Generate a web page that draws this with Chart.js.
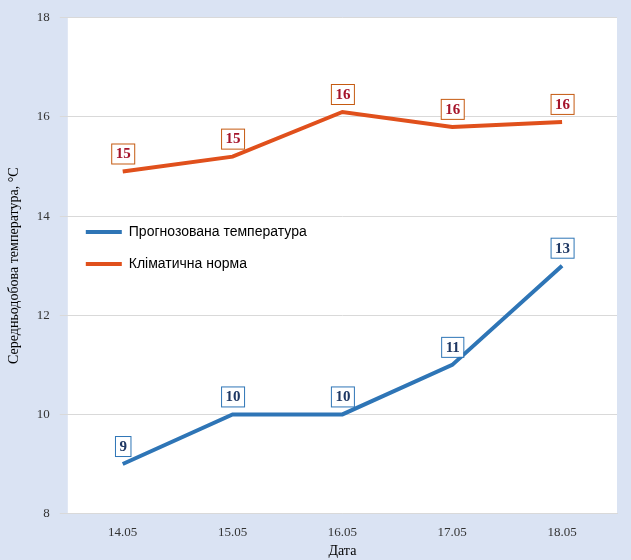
<!DOCTYPE html>
<html><head><meta charset="utf-8">
<script src="https://cdn.jsdelivr.net/npm/chart.js@4"></script>
<style>
html,body{margin:0;padding:0;background:#dae3f3;}
#wrap{position:absolute;left:0;top:0;width:631px;height:560px;}
</style></head><body>
<div id="wrap"><canvas id="c" width="631" height="560"></canvas></div>
<script>
// --- data ---
const dates = ['14.05', '15.05', '16.05', '17.05', '18.05'];
const forecast = [9, 10, 10, 11, 13];
const climateNorm = [14.9, 15.2, 16.1, 15.8, 15.9];

// white plot area background + boxed value labels
const plotBg = {
    id: 'plotBg',
    beforeDraw(chart) {
        const a = chart.chartArea, ctx = chart.ctx;
        ctx.save();
        ctx.fillStyle = '#ffffff';
        ctx.fillRect(a.left, a.top, a.right - a.left, a.bottom - a.top);
        ctx.restore();
    },
    afterDatasetsDraw(chart) {
        const ctx = chart.ctx;
        const styles = [{ text: '#1f3864', border: '#2e75b6' }, { text: '#a5142a', border: '#c55a11' }];
        chart.data.datasets.forEach((ds, i) => {
            chart.getDatasetMeta(i).data.forEach((pt, j) => {
                const label = String(Math.round(ds.data[j]));
                ctx.save();
                ctx.font = 'bold 15px "Liberation Serif"';
                const w = ctx.measureText(label).width + 8, h = 20;
                const x = pt.x - w / 2, y = pt.y - 28;
                ctx.fillStyle = '#fff';
                ctx.fillRect(x, y, w, h);
                ctx.strokeStyle = styles[i].border;
                ctx.lineWidth = 1;
                ctx.strokeRect(x + 0.5, y + 0.5, w, h);
                ctx.fillStyle = styles[i].text;
                ctx.textAlign = 'center';
                ctx.textBaseline = 'middle';
                ctx.fillText(label, pt.x + 0.5, y + h / 2 + 1);
                ctx.restore();
            });
        });
    }
};

new Chart(document.getElementById('c'), {
    type: 'line',
    data: {
        labels: dates,
        datasets: [
            { label: 'Прогнозована температура', data: forecast, borderColor: '#2e75b6', backgroundColor: '#2e75b6',
              borderWidth: 4, pointRadius: 0, tension: 0 },
            { label: 'Кліматична норма', data: climateNorm, borderColor: '#e0501c', backgroundColor: '#e0501c',
              borderWidth: 4, pointRadius: 0, tension: 0 }
        ]
    },
    options: {
        responsive: false, animation: false,
        layout: { padding: { top: 10, right: 14, left: 2, bottom: 0 } },
        plugins: {
            legend: { position: 'chartArea', align: 'center',
                labels: { usePointStyle: true, pointStyle: 'line', pointStyleWidth: 36, color: '#000', padding: 18,
                    font: { family: 'Liberation Sans', size: 14 } } },
            tooltip: { enabled: false }
        },
        scales: {
            x: { offset: true, grid: { display: false }, border: { color: '#d9d9d9' },
                 ticks: { color: '#333', font: { family: 'Liberation Serif', size: 13 } },
                 title: { display: true, text: 'Дата', color: '#000', padding: 0,
                          font: { family: 'Liberation Serif', size: 14 } } },
            y: { min: 8, max: 18, ticks: { stepSize: 2, color: '#333', padding: 10, font: { family: 'Liberation Serif', size: 13 } },
                 grid: { color: '#d9d9d9' }, border: { display: false },
                 title: { display: true, text: 'Середньодобова температура, °С', color: '#000',
                          font: { family: 'Liberation Serif', size: 14 } } }
        }
    },
    plugins: [plotBg]
});
</script>
</body></html>
